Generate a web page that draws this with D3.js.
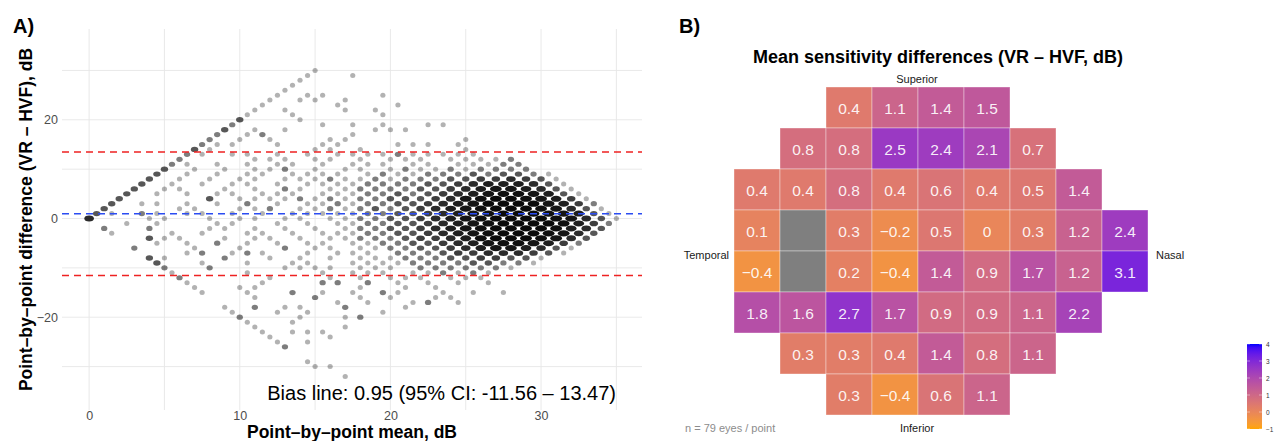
<!DOCTYPE html>
<html>
<head>
<meta charset="utf-8">
<script src="https://cdn.jsdelivr.net/npm/d3@7"></script>
<style>
  body { margin: 0; background: #fff; }
  svg { display: block; font-family: "Liberation Sans", Arial, sans-serif; }
</style>
</head>
<body>
<svg id="chart" width="1276" height="441"></svg>
<script>
// ---------- panel A data ----------
const biasMean = 0.95;
const loaLower = -11.56;
const loaUpper = 13.47;
const xTicks = [0, 10, 20, 30];
const xMinor = [5, 15, 25, 35];
const yTicks = [-20, 0, 20];
const yMinor = [-30, -10, 10, 30];

// one string per difference (dB); character j = number of stacked points
// at mean = |diff|/2 + j  ("." = no point)
const scatterRows = [
  {diff: 30, sites: "1"},
  {diff: 29, sites: "1..1"},
  {diff: 28, sites: "1"},
  {diff: 27, sites: "1"},
  {diff: 26, sites: "1"},
  {diff: 25, sites: "1.11...1"},
  {diff: 24, sites: "1.11.1"},
  {diff: 23, sites: "1....1...1"},
  {diff: 22, sites: "1.1...1.1"},
  {diff: 21, sites: "1..1.....1"},
  {diff: 20, sites: "3...1"},
  {diff: 19, sites: "2.....1.1.1..11"},
  {diff: 18, sites: "3.1.1.....111"},
  {diff: 17, sites: "2.12.....1"},
  {diff: 16, sites: "2.1.1...11.......1"},
  {diff: 15, sites: "211..1..11...111.1"},
  {diff: 14, sites: "31......11.1......1"},
  {diff: 13, sites: "21.11.1.1.1111211111"},
  {diff: 12, sites: "2....111.11.1.111.11112"},
  {diff: 11, sites: "21.1.1.11.1.111.11.11122"},
  {diff: 10, sites: "3.1.1.112.1.11.1211212222"},
  {diff: 9, sites: "3.1.1.11.1111.1211222323321"},
  {diff: 8, sites: "3.1.1.11.1112112122233445431"},
  {diff: 7, sites: "3.1.1.11.1.111122223345666531"},
  {diff: 6, sites: "3.11..1.1.21.11222233456776531"},
  {diff: 5, sites: "3.1.1.11.111.111223234567887631"},
  {diff: 4, sites: "3.....3.111121212233345789987641"},
  {diff: 3, sites: "3.11.1.1.2.1.11212233456799997642"},
  {diff: 2, sites: "3....11..112.112123234567899987531"},
  {diff: 1, sites: "31.21.11.1.1.1111122334567899987631"},
  {diff: 0, sites: "5...11..1.11.11.11223345678999987531"},
  {diff: -1, sites: "..1.1...11..1.1.1122334567899998642"},
  {diff: -2, sites: "2..2...11.1.1.1.122334567899998653"},
  {diff: -3, sites: "1...1.1..11.1.1112233456789998753"},
  {diff: -4, sites: "..311..1.11.1.112223445689998753"},
  {diff: -5, sites: "..1.1.2.1.1.11.1122334567887642"},
  {diff: -6, sites: "2...1..1..2.11.112233456776531"},
  {diff: -7, sites: "...12.121..1.111.222344555431"},
  {diff: -8, sites: "31...2..1.1.1.1112223344331"},
  {diff: -9, sites: "3..1..1..11..1111222233221"},
  {diff: -10, sites: "2..2....1111.111.2222221"},
  {diff: -11, sites: "1....1....1.111.112121"},
  {diff: -12, sites: "2.....1...1.1.111.111"},
  {diff: -13, sites: "1....1...22.2.1.1.1.1"},
  {diff: -14, sites: "1..11......1..1.1"},
  {diff: -15, sites: "1..1..2.1.1.21..1.1.1"},
  {diff: -16, sites: "...1...2..1.1..11"},
  {diff: -17, sites: "........1.1..12.1"},
  {diff: -18, sites: "1.2.11..2...1"},
  {diff: -19, sites: "1..1.1....1"},
  {diff: -20, sites: "2...1..12"},
  {diff: -21, sites: "1..1"},
  {diff: -22, sites: "1.....1"},
  {diff: -23, sites: "1.111"},
  {diff: -24, sites: "1...1"},
  {diff: -25, sites: "1.1"},
  {diff: -26, sites: "2"},
  {diff: -29, sites: "1"},
  {diff: -30, sites: "11"},
  {diff: -32, sites: ".1"}
];

// ---------- panel B data ----------
// rows top (superior) to bottom (inferior); null = outside the field, NaN = blind spot
const fieldValues = [
  [null, null, 0.4, 1.1, 1.4, 1.5, null, null, null],
  [null, 0.8, 0.8, 2.5, 2.4, 2.1, 0.7, null, null],
  [0.4, 0.4, 0.8, 0.4, 0.6, 0.4, 0.5, 1.4, null],
  [0.1, NaN, 0.3, -0.2, 0.5, 0, 0.3, 1.2, 2.4],
  [-0.4, NaN, 0.2, -0.4, 1.4, 0.9, 1.7, 1.2, 3.1],
  [1.8, 1.6, 2.7, 1.7, 0.9, 0.9, 1.1, 2.2, null],
  [null, 0.3, 0.3, 0.4, 1.4, 0.8, 1.1, null, null],
  [null, null, 0.3, -0.4, 0.6, 1.1, null, null, null]
];
const colorDomain = [-1, 4];
const legendTicks = [-1, 0, 1, 2, 3, 4];
const eyesPerPoint = 79;

const svg = d3.select("#chart");
const fmtMinus = s => String(s).replace("-", "\u2212");

// ================= Panel A: Bland-Altman =================
class BlandAltman {
    constructor(svg) {
        this.svg = svg;
        this.initVis();
    }

    initVis() {
        const vis = this;
        vis.margin = {left: 62, right: 642, top: 29, bottom: 410};

        vis.x = d3.scaleLinear().domain([-1.8, 36.7]).range([vis.margin.left, vis.margin.right]);
        vis.y = d3.scaleLinear().domain([-38.8, 38.4]).range([vis.margin.bottom, vis.margin.top]);

        vis.g = vis.svg.append("g");

        // grid lines
        vis.g.selectAll(".vgrid")
            .data(xTicks.concat(xMinor))
            .enter().append("line")
            .attr("x1", d => vis.x(d)).attr("x2", d => vis.x(d))
            .attr("y1", vis.margin.top).attr("y2", vis.margin.bottom)
            .attr("stroke", "#e6e6e6").attr("stroke-width", 0.9);

        vis.g.selectAll(".hgrid")
            .data(yTicks.concat(yMinor))
            .enter().append("line")
            .attr("x1", vis.margin.left).attr("x2", vis.margin.right)
            .attr("y1", d => vis.y(d)).attr("y2", d => vis.y(d))
            .attr("stroke", "#e6e6e6").attr("stroke-width", 0.9);

        // axes (no lines, labels only - theme_minimal look)
        const xAxis = vis.g.append("g")
            .attr("transform", `translate(0, 406)`)
            .call(d3.axisBottom(vis.x).tickValues(xTicks).tickSize(0).tickPadding(5));
        const yAxis = vis.g.append("g")
            .attr("transform", `translate(60, 0)`)
            .call(d3.axisLeft(vis.y).tickValues(yTicks).tickSize(0).tickPadding(2)
                .tickFormat(d => fmtMinus(d)));
        [xAxis, yAxis].forEach(a => {
            a.select(".domain").remove();
            a.selectAll("text")
                .attr("fill", "#4d4d4d")
                .style("font-size", "12.5px")
                .style("font-family", "'Liberation Sans', Arial, sans-serif");
        });

        // axis titles
        vis.svg.append("text")
            .attr("x", (vis.margin.left + vis.margin.right) / 2)
            .attr("y", 437.5)
            .attr("text-anchor", "middle")
            .style("font-size", "17.5px").style("font-weight", "bold")
            .text("Point\u2013by\u2013point mean, dB");

        vis.svg.append("text")
            .attr("transform", `translate(32, ${(vis.margin.top + vis.margin.bottom) / 2}) rotate(-90)`)
            .attr("text-anchor", "middle")
            .style("font-size", "17.5px").style("font-weight", "bold")
            .text("Point\u2013by\u2013point difference (VR \u2013 HVF), dB");

        vis.svg.append("text")
            .attr("x", 13).attr("y", 33)
            .style("font-size", "20px").style("font-weight", "bold")
            .text("A)");

        vis.updateVis();
    }

    updateVis() {
        const vis = this;

        // expand the row strings into points
        const points = [];
        scatterRows.forEach(row => {
            row.sites.split("").forEach((ch, j) => {
                if (ch === ".") return;
                points.push({mean: Math.abs(row.diff) / 2 + j, diff: row.diff, n: +ch});
            });
        });

        vis.g.append("g").selectAll("ellipse")
            .data(points)
            .enter().append("ellipse")
            .attr("cx", d => vis.x(d.mean))
            .attr("cy", d => vis.y(d.diff))
            .attr("rx", d => 2.6 + 0.55 * Math.min(d.n - 1, 6))
            .attr("ry", d => 2.5 + 0.1 * Math.min(d.n - 1, 6))
            .attr("fill", "#000")
            .attr("fill-opacity", d => 1 - Math.pow(0.7, d.n));

        // bias and limits of agreement
        const refLines = [
            {v: loaUpper, c: "#ee2222"},
            {v: biasMean, c: "#2b4cf2"},
            {v: loaLower, c: "#ee2222"}
        ];
        vis.g.selectAll(".ref")
            .data(refLines)
            .enter().append("line")
            .attr("x1", vis.margin.left).attr("x2", vis.margin.right)
            .attr("y1", d => vis.y(d.v)).attr("y2", d => vis.y(d.v))
            .attr("stroke", d => d.c)
            .attr("stroke-width", 1.5)
            .attr("stroke-dasharray", "7,5");

        vis.svg.append("text")
            .attr("x", 616).attr("y", 400)
            .attr("text-anchor", "end")
            .style("font-size", "20px")
            .text(`Bias line: ${biasMean} (95% CI: ${loaLower} \u2013 ${loaUpper})`);
    }
}

// ================= Panel B: visual field map =================
class FieldMap {
    constructor(svg) {
        this.svg = svg;
        this.initVis();
    }

    initVis() {
        const vis = this;
        const colIdx = fieldValues[0].map((_, i) => i);
        const rowIdx = fieldValues.map((_, i) => i);

        vis.x = d3.scaleBand().domain(colIdx).range([734, 1148]);
        vis.y = d3.scaleBand().domain(rowIdx).range([87, 415]);
        vis.color = d3.scaleSequential(d3.interpolateLab("orange", "blue")).domain(colorDomain);

        vis.svg.append("text")
            .attr("x", 679).attr("y", 33)
            .style("font-size", "20px").style("font-weight", "bold")
            .text("B)");

        vis.svg.append("text")
            .attr("x", 938).attr("y", 63)
            .attr("text-anchor", "middle")
            .style("font-size", "18px").style("font-weight", "bold")
            .text("Mean sensitivity differences (VR \u2013 HVF, dB)");

        const side = [
            {t: "Superior", x: 917, y: 83, a: "middle"},
            {t: "Inferior", x: 917, y: 432, a: "middle"},
            {t: "Temporal", x: 729, y: 259, a: "end"},
            {t: "Nasal", x: 1156, y: 259, a: "start"}
        ];
        vis.svg.selectAll(".side")
            .data(side)
            .enter().append("text")
            .attr("x", d => d.x).attr("y", d => d.y)
            .attr("text-anchor", d => d.a)
            .attr("fill", "#1a1a1a")
            .style("font-size", "11px")
            .text(d => d.t);

        vis.svg.append("text")
            .attr("x", 685).attr("y", 432)
            .attr("fill", "#8c8c8c")
            .style("font-size", "11px")
            .text(`n = ${eyesPerPoint} eyes / point`);

        vis.updateVis();
        vis.drawLegend();
    }

    updateVis() {
        const vis = this;
        const cells = [];
        fieldValues.forEach((row, r) => row.forEach((v, c) => {
            if (v !== null) cells.push({r, c, v});
        }));

        const g = vis.svg.append("g");
        g.selectAll("rect")
            .data(cells)
            .enter().append("rect")
            .attr("x", d => vis.x(d.c))
            .attr("y", d => vis.y(d.r))
            .attr("width", vis.x.bandwidth())
            .attr("height", vis.y.bandwidth())
            .attr("fill", d => isNaN(d.v) ? "#7f7f7f" : vis.color(d.v))
            .attr("stroke", "#ffffff")
            .attr("stroke-opacity", 0.45)
            .attr("stroke-width", 0.8);

        g.selectAll("text")
            .data(cells.filter(d => !isNaN(d.v)))
            .enter().append("text")
            .attr("x", d => vis.x(d.c) + vis.x.bandwidth() / 2)
            .attr("y", d => vis.y(d.r) + vis.y.bandwidth() / 2 + 1)
            .attr("text-anchor", "middle")
            .attr("dominant-baseline", "central")
            .attr("fill", "#ffffff")
            .attr("fill-opacity", 0.92)
            .style("font-size", "15.5px")
            .text(d => fmtMinus(Math.round(d.v * 10) / 10));
    }

    drawLegend() {
        const vis = this;
        const ly = d3.scaleLinear().domain(colorDomain).range([429, 344]);
        const bx = 1247, bw = 15;

        const grad = vis.svg.append("defs").append("linearGradient")
            .attr("id", "legGrad")
            .attr("x1", 0).attr("y1", 1).attr("x2", 0).attr("y2", 0);
        grad.selectAll("stop")
            .data(vis.color.ticks(20))
            .enter().append("stop")
            .attr("offset", d => (d - colorDomain[0]) / (colorDomain[1] - colorDomain[0]))
            .attr("stop-color", d => vis.color(d));

        vis.svg.append("rect")
            .attr("x", bx).attr("y", ly(colorDomain[1]))
            .attr("width", bw).attr("height", ly(colorDomain[0]) - ly(colorDomain[1]))
            .attr("fill", "url(#legGrad)");

        const tg = vis.svg.append("g");
        legendTicks.forEach(t => {
            [bx, bx + bw - 3].forEach(x0 => {
                tg.append("line")
                    .attr("x1", x0).attr("x2", x0 + 3)
                    .attr("y1", ly(t)).attr("y2", ly(t))
                    .attr("stroke", "#fff").attr("stroke-opacity", 0.7).attr("stroke-width", 0.6);
            });
            tg.append("text")
                .attr("x", bx + bw + 4).attr("y", ly(t))
                .attr("dominant-baseline", "central")
                .attr("fill", "#333")
                .style("font-size", "6.5px")
                .text(fmtMinus(t));
        });
    }
}

new BlandAltman(svg);
new FieldMap(svg);
</script>
</body>
</html>
